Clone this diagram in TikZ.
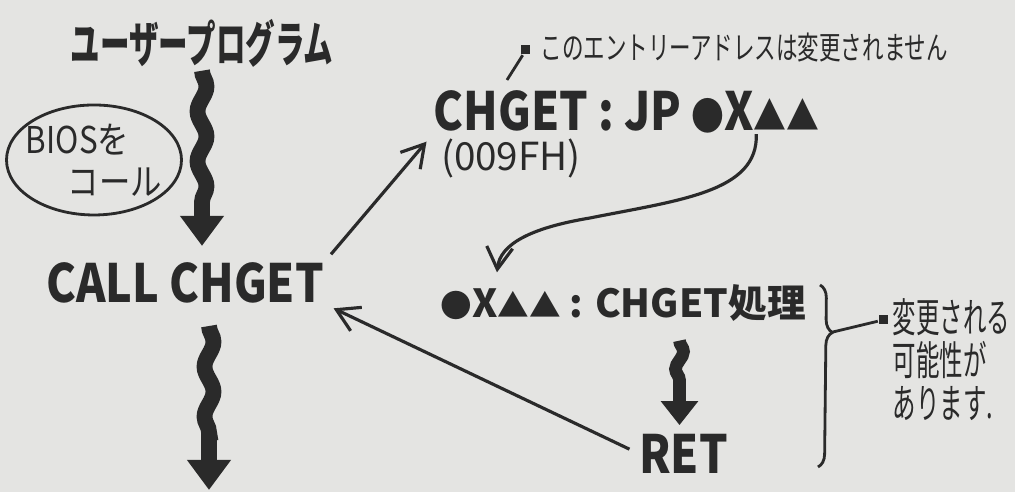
\documentclass[tikz,border=0pt]{standalone}
\usepackage{fontspec}
\setmainfont{Noto Sans CJK JP}
\newfontfamily\jptitle[FakeStretch=0.6]{Noto Sans CJK JP}
\newfontfamily\jpcode[FakeStretch=0.85]{Noto Sans CJK JP}
\newfontfamily\jpnote[FakeStretch=0.68]{Noto Sans CJK JP}
\newfontfamily\jpside[FakeStretch=0.58]{Noto Sans CJK JP}
\newfontfamily\jphand[FakeStretch=0.85]{Noto Sans CJK JP}
\usetikzlibrary{shapes.geometric,arrows.meta,decorations.pathmorphing,decorations.pathreplacing}
\definecolor{paper}{RGB}{228,228,226}
\definecolor{ink}{RGB}{42,42,42}

\begin{document}
\begin{tikzpicture}[
    code/.style={font=\jpcode\bfseries\fontsize{15}{15}\selectfont, text=ink, inner sep=0pt},
    smallcode/.style={font=\bfseries\fontsize{11}{11}\selectfont, text=ink, inner sep=0pt},
    note/.style={font=\jpnote\fontsize{9}{10}\selectfont, text=ink, inner sep=0pt},
    sidenote/.style={font=\jpside\fontsize{11.5}{12.2}\selectfont, text=ink, inner sep=0pt, align=left},
    pin/.style={rectangle, fill=ink, minimum size=0.09cm, inner sep=0pt},
    wavy/.style={draw=ink, line width=4.5pt, decorate, decoration={snake, amplitude=0.45mm, segment length=5mm, post length=3.5mm}, -{Triangle[width=4.2mm,length=3mm]}},
    smallwavy/.style={draw=ink, line width=3.6pt, decorate, decoration={snake, amplitude=0.4mm, segment length=3.5mm, post length=2.8mm}, -{Triangle[width=3.6mm,length=2.4mm]}},
    link/.style={draw=ink, line width=0.9pt, -{Straight Barb[length=2.2mm,width=2.6mm]}}
]
\useasboundingbox[fill=paper] (0,0) rectangle (10.15,4.92);
\node[font=\jptitle\bfseries\fontsize{14}{14}\selectfont, text=ink, inner sep=0pt] (title) at (2.02,4.49) {ユーザープログラム};
\node[ellipse, draw=ink, thick, minimum width=1.75cm, minimum height=1.1cm, inner xsep=-0.16cm, inner ysep=-0.04cm, align=left, font=\jphand\fontsize{10.5}{12}\selectfont, text=ink] (bios) at (0.94,3.32) {BIOSを\\\hspace*{0.42cm}コール};
\node[code] (call) at (1.85,2.09) {CALL CHGET};
\node[code, anchor=west] (entry) at (4.33,3.80) {CHGET : JP {\fontsize{11}{11}\selectfont●}X{\fontsize{11}{11}\selectfont▲▲}};
\node[font=\fontsize{11}{11}\selectfont, text=ink, inner sep=0pt] (addr) at (5.11,3.33) {(009FH)};
\node[pin] (pintop) at (5.26,4.42) {};
\coordinate (pinfoot) at (5.07,4.12);
\node[note, anchor=west] (keep) at (5.40,4.44) {このエントリーアドレスは変更されません};
\node[smallcode, anchor=west] (proc) at (4.40,1.885) {{\fontsize{9}{9}\selectfont●}X{\fontsize{9}{9}\selectfont▲▲} : CHGET処理};
\node[code] (ret) at (6.835,0.385) {RET};
\node[pin] (sq) at (8.83,1.72) {};
\node[sidenote, anchor=north west] (maychange) at (8.92,1.94) {変更される\\可能性が\\あります.};
\coordinate (btop) at (8.20,2.07);
\coordinate (bbot) at (8.18,0.25);
\coordinate (btip) at (8.33,1.60);
\coordinate (out) at (2.09,0.02);

\draw[ink, thick] (pinfoot) -- (pintop);
\draw[wavy] ([yshift=-0.03cm]title.south) -- ([yshift=0.16cm]title.south |- call.north);
\draw[wavy] ([xshift=0.24cm,yshift=-0.22cm]call.south) -- (out);
\draw[smallwavy] ([xshift=-0.04cm,yshift=-0.18cm]ret.north |- proc.south) -- ([xshift=-0.04cm,yshift=0.08cm]ret.north);
\draw[link, shorten <=1mm, shorten >=1mm] (call.north east) -- (entry.south west);
\draw[link, shorten <=1mm, shorten >=1mm] (ret.west) -- (call.south east);
\draw[link] ([xshift=-0.64cm]entry.south east) .. controls +(0.02,-0.58) and +(0.9,0.18) .. (5.90,2.74) .. controls +(-0.6,-0.1) and +(0.03,0.28) .. ([xshift=0.57cm,yshift=0.12cm]proc.north west);
\draw[ink, thick, decorate, decoration={brace, amplitude=0.13cm, aspect=0.26}] (btop) -- (bbot);
\draw[ink, thick] (btip) -- (sq);
\end{tikzpicture}
\end{document}
